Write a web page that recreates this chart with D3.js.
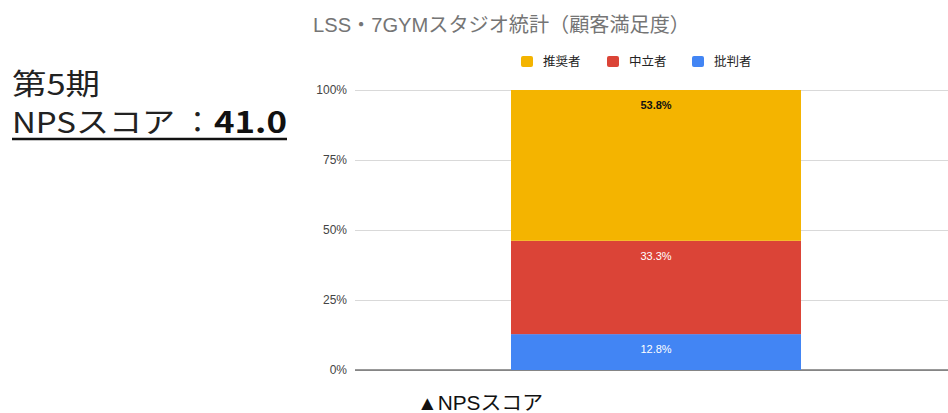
<!DOCTYPE html>
<html>
<head>
<meta charset="utf-8">
<script src="https://cdn.jsdelivr.net/npm/d3@7"></script>
<style>
  body { margin: 0; background: #fff; }
  svg { display: block; }
  .y.axis path { display: none; }
  .y.axis line { stroke: #d9d9d9; }
  .y.axis text { font-family: "Liberation Sans", Arial, sans-serif; font-size: 12px; fill: #444; }
</style>
</head>
<body>
<div id="chart"></div>
<script>
var categories = ["第5期"];
var seriesNames = ["推奨者", "中立者", "批判者"];
// percentages per series, one value per category
var promoters = [53.8];
var passives = [33.3];
var detractors = [12.8];
var tickValues = [0, 0.25, 0.5, 0.75, 1];
var tickLabels = ["0%", "25%", "50%", "75%", "100%"];

function init(){

    var w = 948;
    var h = 413;
    var jp = "'Noto Sans CJK JP', 'Liberation Sans', sans-serif";
    var ar = "'Liberation Sans', 'Noto Sans CJK JP', sans-serif";
    var left = 355, right = 957;

    var svg = d3.select("#chart")
                .append("svg")
                .attr("width", w)
                .attr("height", h);

    // rows for the stack, values normalised to 1
    var rows = categories.map(function(c, i){
        var total = detractors[i] + passives[i] + promoters[i];
        return {
            cat: c,
            "批判者": detractors[i] / total,
            "中立者": passives[i] / total,
            "推奨者": promoters[i] / total,
            raw: {"批判者": detractors[i], "中立者": passives[i], "推奨者": promoters[i]}
        };
    });

    var stackOrder = ["批判者", "中立者", "推奨者"];
    var stacked = d3.stack().keys(stackOrder)(rows);

    var color = d3.scaleOrdinal()
                .domain(seriesNames)
                .range(["#f4b400", "#db4437", "#4285f4"]);

    var xScale = d3.scaleBand()
                .domain(categories)
                .range([left, right])
                .paddingInner(0)
                .paddingOuter(0.538);

    var yScale = d3.scaleLinear()
                .domain([0, 1])
                .range([370, 90]);

    var yAxis = d3.axisLeft(yScale)
                .tickValues(tickValues)
                .tickFormat(function(d, i){ return tickLabels[i]; })
                .tickSize(-(right - left))
                .tickPadding(8);

    svg.append("g")
        .attr("class", "y axis")
        .attr("transform", "translate(" + left + ", 0)")
        .call(yAxis);

    // baseline
    svg.append("line")
        .attr("x1", left)
        .attr("x2", right)
        .attr("y1", yScale(0))
        .attr("y2", yScale(0))
        .attr("stroke", "#333")
        .attr("stroke-width", 1);

    // bars
    var layers = svg.selectAll("g.layer")
                .data(stacked)
                .enter()
                .append("g")
                .attr("class", "layer")
                .attr("fill", function(d){ return color(d.key); });

    layers.selectAll("rect")
        .data(function(d){ return d; })
        .enter()
        .append("rect")
        .attr("x", function(d){ return xScale(d.data.cat); })
        .attr("width", xScale.bandwidth())
        .attr("y", function(d){ return yScale(d[1]); })
        .attr("height", function(d){ return yScale(d[0]) - yScale(d[1]); });

    // value labels at top of each segment
    layers.each(function(layer){
        d3.select(this).selectAll("text")
            .data(layer)
            .enter()
            .append("text")
            .attr("x", function(d){ return xScale(d.data.cat) + xScale.bandwidth() / 2; })
            .attr("y", function(d){ return yScale(d[1]) + 19; })
            .attr("text-anchor", "middle")
            .attr("font-family", ar)
            .attr("font-size", "11px")
            .attr("font-weight", layer.key === "推奨者" ? "bold" : "normal")
            .attr("fill", layer.key === "推奨者" ? "#111" : "#fff")
            .text(function(d){ return d.data.raw[layer.key].toFixed(1) + "%"; });
    });

    // title
    svg.append("text")
        .attr("x", 313)
        .attr("y", 32)
        .attr("font-family", ar)
        .attr("font-size", "20px")
        .attr("fill", "#757575")
        .attr("textLength", 377)
        .attr("lengthAdjust", "spacingAndGlyphs")
        .text("LSS・7GYMスタジオ統計（顧客満足度）");

    // legend
    var legendX = [521, 607, 692];
    var legend = svg.selectAll("g.legend")
                .data(seriesNames)
                .enter()
                .append("g")
                .attr("class", "legend")
                .attr("transform", function(d, i){ return "translate(" + legendX[i] + ", 56)"; });

    legend.append("rect")
        .attr("width", 12)
        .attr("height", 11)
        .attr("rx", 2)
        .attr("fill", function(d){ return color(d); });

    legend.append("text")
        .attr("x", 22)
        .attr("y", 10)
        .attr("font-family", jp)
        .attr("font-size", "12.5px")
        .attr("fill", "#222")
        .text(function(d){ return d; });

    // left side heading
    svg.append("text")
        .attr("x", 12)
        .attr("y", 95)
        .attr("font-family", jp)
        .attr("font-size", "29px")
        .attr("fill", "#222")
        .attr("textLength", 88)
        .attr("lengthAdjust", "spacingAndGlyphs")
        .text("第5期");

    var nps = svg.append("text")
        .attr("y", 133)
        .attr("font-family", jp)
        .attr("font-size", "29px")
        .attr("fill", "#222");
    nps.append("tspan")
        .attr("x", 12)
        .attr("textLength", 163)
        .attr("lengthAdjust", "spacingAndGlyphs")
        .text("NPSスコア");
    nps.append("tspan")
        .attr("x", 183)
        .text("：");
    nps.append("tspan")
        .attr("x", 214)
        .attr("font-weight", "bold")
        .attr("fill", "#111")
        .attr("textLength", 73)
        .attr("lengthAdjust", "spacingAndGlyphs")
        .text("41.0");

    svg.append("line")
        .attr("x1", 12)
        .attr("x2", 287)
        .attr("y1", 139)
        .attr("y2", 139)
        .attr("stroke", "#111")
        .attr("stroke-width", 2.5);

    // caption
    svg.append("text")
        .attr("x", 417)
        .attr("y", 410)
        .attr("font-family", ar)
        .attr("font-size", "20px")
        .attr("fill", "#111")
        .attr("textLength", 126)
        .attr("lengthAdjust", "spacingAndGlyphs")
        .text("▲NPSスコア");
}
window.onload = init;
</script>
</body>
</html>
